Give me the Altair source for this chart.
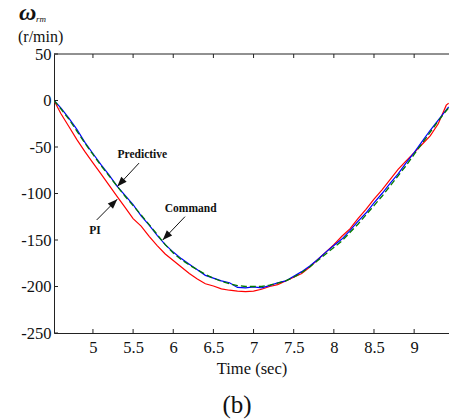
import math
import altair as alt
import pandas as pd

# ---- data ----
t = [4.515, 4.6, 4.7, 4.8, 4.9, 5.0, 5.1, 5.2, 5.3, 5.4, 5.5, 5.6, 5.7, 5.8, 5.9,
     6.0, 6.1, 6.2, 6.3, 6.4, 6.5, 6.6, 6.7, 6.8, 6.9, 7.0, 7.1, 7.2, 7.3, 7.4,
     7.5, 7.6, 7.7, 7.8, 7.9, 8.0, 8.1, 8.2, 8.3, 8.4, 8.5, 8.6, 8.7, 8.8, 8.9,
     9.0, 9.1, 9.2, 9.3, 9.4, 9.43]
command = [0, -9, -20, -33, -46, -58, -70, -81, -92, -103, -113, -123, -133.5, -144, -155,
           -164, -171, -177, -182, -187, -191, -194.5, -197, -199, -200, -200, -200, -198.5, -196.5, -194,
           -190, -185, -179, -172, -165, -158, -151, -142, -133, -123, -113, -103, -92, -81, -70,
           -58, -46, -34, -22, -11, -8]
predictive = [0, -8, -19, -31, -45, -57, -69, -80, -92, -102, -112, -124, -134, -145, -155,
              -163, -170, -176, -182, -188, -191, -194, -196, -201, -201.5, -200.5, -201.5, -199, -196, -194,
              -189, -184, -178, -171, -163, -156, -149, -140, -130, -121, -110, -100, -89, -79, -67,
              -56, -44, -32, -21, -10, -7]
pi = [0, -14, -28, -42, -55, -67, -79, -91, -103, -115, -127, -135, -146, -156, -165,
      -172, -179, -186, -192, -197, -199.5, -202.5, -204, -205, -205.5, -205, -203, -200, -198, -194,
      -190, -186, -179, -171, -163, -155, -146, -138, -127, -117, -106, -96, -85, -74, -65,
      -56, -47, -38, -25, -5, -3]

x_ticks = [5, 5.5, 6, 6.5, 7, 7.5, 8, 8.5, 9]
y_ticks = [50, 0, -50, -100, -150, -200, -250]

ann_labels = ["Predictive", "Command", "PI"]
ann_text_x = [5.615, 6.217, 5.026]
ann_text_y = [-59.1, -116.9, -140.3]
arrow_x0 = [5.574, 6.146, 5.047]
arrow_y0 = [-67.3, -124.9, -128.4]
arrow_x1 = [5.303, 5.869, 5.303]
arrow_y1 = [-92.5, -150.0, -106.1]

# ---- layout ----
X0, X1 = 4.515, 9.434
Y0, Y1 = -250, 50
W, H = 395, 279
FONT = "Liberation Serif"
AX = "#222222"
TXT = "#111111"

xs = alt.Scale(domain=[X0, X1], nice=False, zero=False)
ys = alt.Scale(domain=[Y0, Y1], nice=False, zero=False)

df = pd.DataFrame({"t": t, "command": command, "predictive": predictive, "pi": pi})

base = alt.Chart(df)
line_pi = base.mark_line(color="#ff0000", strokeWidth=1.2, clip=True).encode(
    x=alt.X("t:Q", scale=xs,
            axis=alt.Axis(values=x_ticks, title="Time (sec)", labelExpr="'' + datum.value",
                          labelPadding=6, titlePadding=5)),
    y=alt.Y("pi:Q", scale=ys,
            axis=alt.Axis(values=y_ticks, title=None, labelExpr="'' + datum.value",
                          labelPadding=3)),
)
line_pred = base.mark_line(color="#0000ff", strokeWidth=1.2, clip=True).encode(
    x=alt.X("t:Q", scale=xs), y=alt.Y("predictive:Q", scale=ys))
line_cmd = base.mark_line(color="#007a00", strokeWidth=1.3, strokeDash=[6, 3], clip=True).encode(
    x=alt.X("t:Q", scale=xs), y=alt.Y("command:Q", scale=ys))

# frame: top border
top = alt.Chart(pd.DataFrame({"a": [0]})).mark_rule(color=AX, strokeWidth=1).encode(
    x=alt.value(0), x2=alt.value(W), y=alt.value(0))

xt = pd.DataFrame({"v": x_ticks})
ticks_bottom = alt.Chart(xt).mark_rule(color=AX).encode(
    x=alt.X("v:Q", scale=xs), y=alt.value(H), y2=alt.value(H - 4))
ticks_top = alt.Chart(xt).mark_rule(color=AX).encode(
    x=alt.X("v:Q", scale=xs), y=alt.value(0), y2=alt.value(4))
yt = pd.DataFrame({"v": y_ticks})
ticks_left = alt.Chart(yt).mark_rule(color=AX).encode(
    y=alt.Y("v:Q", scale=ys), x=alt.value(0), x2=alt.value(4))

# annotations
pxx = W / (X1 - X0)
pxy = H / (Y1 - Y0)
angles = []
for a, b, c, d in zip(arrow_x0, arrow_y0, arrow_x1, arrow_y1):
    dx = (c - a) * pxx
    dy = -(d - b) * pxy
    angles.append(math.degrees(math.atan2(dx, -dy)) % 360)

ann = pd.DataFrame({"label": ann_labels, "tx": ann_text_x, "ty": ann_text_y,
                    "x0": arrow_x0, "y0": arrow_y0, "x1": arrow_x1, "y1": arrow_y1,
                    "ang": angles})
ann_text = alt.Chart(ann).mark_text(font=FONT, fontSize=11.5, fontWeight="bold", color=TXT).encode(
    x=alt.X("tx:Q", scale=xs), y=alt.Y("ty:Q", scale=ys), text="label:N")
ann_line = alt.Chart(ann).mark_rule(color=TXT, strokeWidth=1).encode(
    x=alt.X("x0:Q", scale=xs), y=alt.Y("y0:Q", scale=ys),
    x2="x1:Q", y2="y1:Q")
ann_head = alt.Chart(ann).mark_point(shape="M0,0L0.6,1.6L-0.6,1.6Z", filled=True, color=TXT,
                                     size=150, opacity=1).encode(
    x=alt.X("x1:Q", scale=xs), y=alt.Y("y1:Q", scale=ys),
    angle=alt.Angle("ang:Q", scale=None))

# unit labels and caption
lab = alt.Chart(pd.DataFrame({"a": [0]}))
omega = lab.mark_text(text="ω", font=FONT, fontSize=24, fontStyle="italic", fontWeight="bold",
                      align="left", baseline="alphabetic", color=TXT).encode(
    x=alt.value(-35), y=alt.value(-34))
sub = lab.mark_text(text="rm", font=FONT, fontSize=9, fontStyle="italic", align="left",
                    baseline="alphabetic", color=TXT).encode(x=alt.value(-18), y=alt.value(-32))
unit = lab.mark_text(text="(r/min)", font=FONT, fontSize=16, align="left", baseline="middle",
                     color=TXT).encode(x=alt.value(-36), y=alt.value(-17))
cap = lab.mark_text(text="(b)", font=FONT, fontSize=25, align="center", baseline="middle",
                    color=TXT).encode(x=alt.value(183), y=alt.value(351))

chart = alt.layer(
    line_pi, line_pred, line_cmd, top, ticks_bottom, ticks_top, ticks_left,
    ann_line, ann_head, ann_text, omega, sub, unit, cap
).properties(
    width=W, height=H,
    autosize=alt.AutoSizeParams(type="none"),
    padding={"left": 54, "top": 54, "right": 0, "bottom": 86},
    background="white",
).configure_view(stroke=None).configure_axis(
    ticks=False, grid=False, domainColor=AX, labelColor=TXT, labelFont=FONT,
    labelFontSize=16.5, labelFlush=False, titleFont=FONT, titleFontSize=16.5,
    titleFontWeight="normal", titleColor=TXT
)

chart.save("out.html", embed_options={"renderer": "svg", "actions": False})
